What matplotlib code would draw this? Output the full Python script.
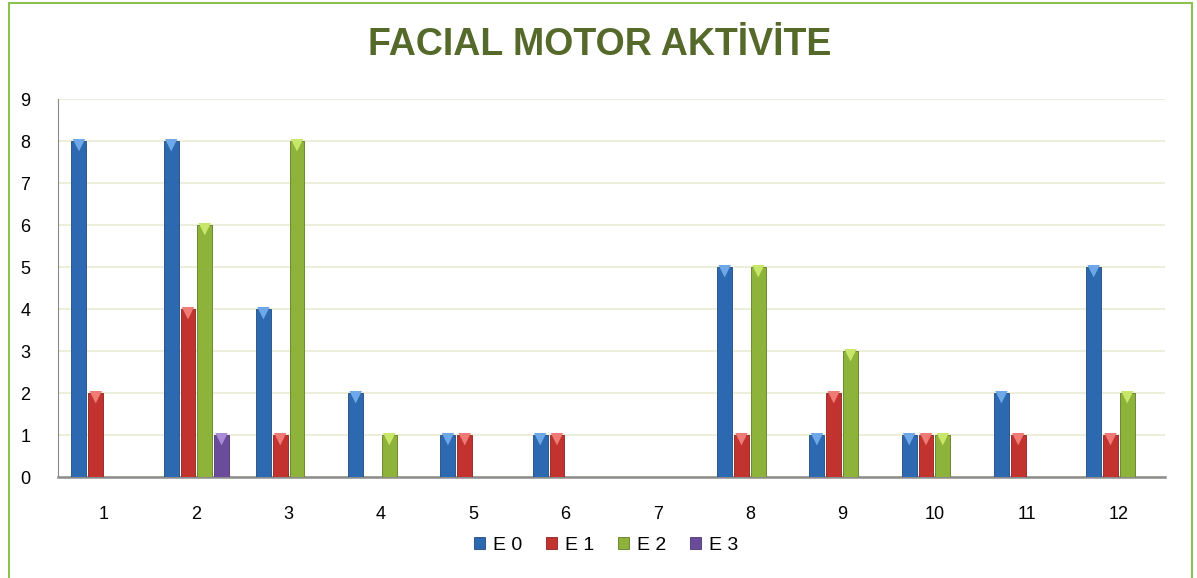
import matplotlib.pyplot as plt
import numpy as np
from matplotlib.patches import Rectangle

categories = ['1', '2', '3', '4', '5', '6', '7', '8', '9', '10', '11', '12']
series_names = ['E 0', 'E 1', 'E 2', 'E 3']
e0 = [8, 8, 4, 2, 1, 1, 0, 5, 1, 1, 2, 5]
e1 = [2, 4, 1, 0, 1, 1, 0, 1, 2, 1, 1, 1]
e2 = [0, 6, 8, 1, 0, 0, 0, 5, 3, 1, 0, 2]
e3 = [0, 1, 0, 0, 0, 0, 0, 0, 0, 0, 0, 0]

colors = ['#2D69B0', '#C2332F', '#8DB33A', '#6B4C9A']
tips = ['#6FA8E8', '#F07A76', '#C8E66A', '#A98BD6']
edges = ['#1F4A7E', '#8A2220', '#5F7A24', '#4A3470']

plt.rcParams['font.family'] = ['Liberation Sans', 'DejaVu Sans']

fig = plt.figure(figsize=(11.97, 5.78), dpi=100)
fig.patches.append(Rectangle((9 / 1197, -0.01), (1192 - 9) / 1197, 1 - 3 / 578 + 0.01,
                             transform=fig.transFigure, fill=False,
                             edgecolor='#8CC152', linewidth=1.5))

ax = fig.add_axes([58 / 1197, 1 - 477 / 578, (1165 - 58) / 1197, (477 - 99) / 578])

x = np.arange(len(categories))
step = 0.182
width = 0.162
for i, vals in enumerate([e0, e1, e2, e3]):
    pos = x + (i - 1.5) * step
    ax.bar(pos, vals, width, color=colors[i], edgecolor=edges[i], linewidth=0.6,
           label=series_names[i], zorder=3)
    v = np.array(vals, dtype=float)
    m = v > 0
    ax.scatter(pos[m], v[m] - 0.1, marker='v', s=80, color=tips[i],
               edgecolors='none', zorder=4)

ax.set_xlim(-0.5, len(categories) - 0.5)
ax.set_ylim(0, 9)
ax.set_yticks(range(10))
ax.set_xticks(x)
ax.set_xticklabels(categories)
ax.yaxis.grid(True, color='#EDEEDC', linewidth=1.5, zorder=0)
ax.set_axisbelow(True)
for s in ['top', 'right']:
    ax.spines[s].set_visible(False)
ax.spines['left'].set_color('#888888')
ax.spines['bottom'].set_color('#8C8C8C')
ax.spines['bottom'].set_linewidth(1.8)
ax.tick_params(axis='both', length=0, labelsize=13, colors='black')
ax.tick_params(axis='y', pad=20)
ax.tick_params(axis='x', pad=21)

fig.text(0.501, 1 - 45 / 578, 'FACIAL MOTOR AKTİVİTE', ha='center', va='center',
         fontsize=27, fontweight='bold', color='#55692A')

ax.legend(loc='center', bbox_to_anchor=(0.495, -0.18), ncol=4, frameon=False,
          fontsize=14, handlelength=0.6, handleheight=0.6, handletextpad=0.4,
          columnspacing=1.2)

fig.savefig('out.png', dpi=100)
